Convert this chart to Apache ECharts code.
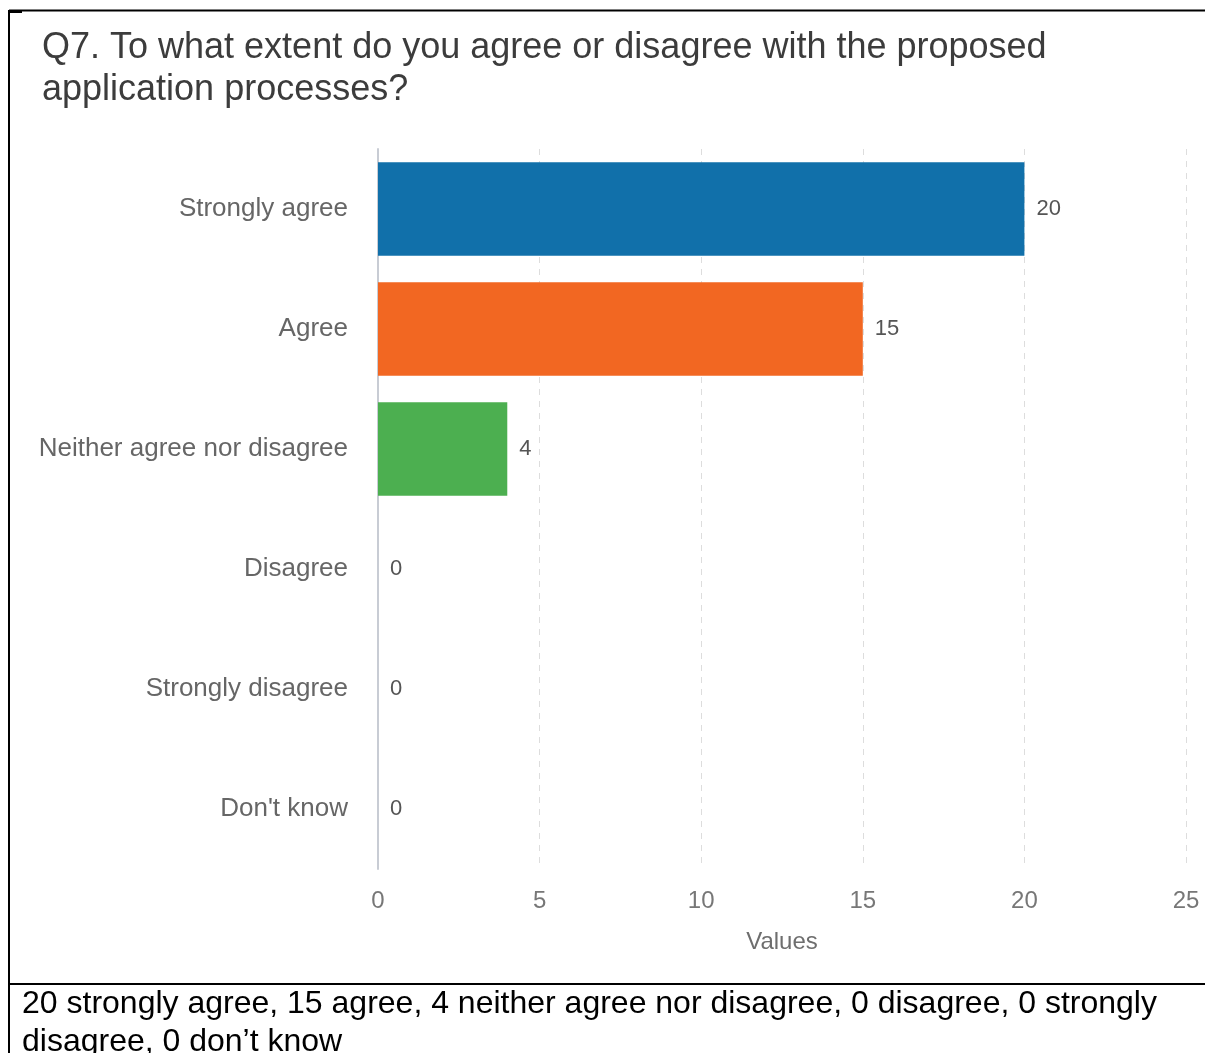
<!DOCTYPE html>
<html>
<head>
<meta charset="utf-8">
<style>
  html, body { margin: 0; padding: 0; background: #fff; }
  #chart { width: 1205px; height: 1053px; }
</style>
<script src="https://cdn.jsdelivr.net/npm/echarts@6/dist/echarts.min.js"></script>
</head>
<body>
<div id="chart"></div>
<script>
// Survey responses for Q7
const categories = ['Strongly agree', 'Agree', 'Neither agree nor disagree', 'Disagree', 'Strongly disagree', "Don't know"];
const counts = [20, 15, 4, 0, 0, 0];
const barColors = ['#1170aa', '#f26722', '#4caf50', '#999999', '#999999', '#999999'];
const titleText = 'Q7. To what extent do you agree or disagree with the proposed\napplication processes?';
const captionLines = [
  '20 strongly agree, 15 agree, 4 neither agree nor disagree, 0 disagree, 0 strongly',
  'disagree, 0 don\u2019t know'
];

const FONT = 'Liberation Sans, Arial, sans-serif';
const chart = echarts.init(document.getElementById('chart'), null, { renderer: 'canvas' });

chart.setOption({
  backgroundColor: '#ffffff',
  animation: false,
  title: {
    text: titleText,
    left: 37,
    top: 22,
    textStyle: {
      fontFamily: FONT,
      fontSize: 36,
      fontWeight: 'normal',
      color: '#3c3c3c',
      lineHeight: 42
    }
  },
  grid: {
    left: 378,
    right: 19,
    top: 149,
    height: 720,
    containLabel: false
  },
  xAxis: {
    type: 'value',
    min: 0,
    max: 25,
    interval: 5,
    name: 'Values',
    nameLocation: 'middle',
    nameGap: 61,
    nameTextStyle: { fontFamily: FONT, fontSize: 24, color: '#6e6e6e' },
    axisLine: { show: false },
    axisTick: { show: false },
    axisLabel: { margin: 20, fontFamily: FONT, fontSize: 24, color: '#777777' },
    splitLine: {
      show: true,
      lineStyle: { color: '#dddddd', type: [6, 6], width: 1 }
    }
  },
  yAxis: {
    type: 'category',
    data: categories,
    inverse: true,
    axisLine: { show: true, lineStyle: { color: '#c8ccd4', width: 2 } },
    axisTick: { show: false },
    axisLabel: { margin: 30, fontFamily: FONT, fontSize: 26, color: '#666666', padding: [8, 0, 0, 0] }
  },
  series: [{
    type: 'bar',
    data: counts.map((v, i) => ({ value: v, itemStyle: { color: barColors[i] } })),
    barCategoryGap: '22%',
    label: {
      show: true,
      position: 'right',
      distance: 12,
      fontFamily: FONT,
      fontSize: 22,
      color: '#555555',
      padding: [10, 0, 0, 0]
    }
  }],
  graphic: [
    // frame lines
    { type: 'line', shape: { x1: 9, y1: 10.5, x2: 1205, y2: 10.5 }, style: { stroke: '#000', lineWidth: 2 } },
    { type: 'line', shape: { x1: 8, y1: 11.5, x2: 22, y2: 11.5 }, style: { stroke: '#000', lineWidth: 3 } },
    { type: 'line', shape: { x1: 9, y1: 10, x2: 9, y2: 1053 }, style: { stroke: '#000', lineWidth: 2 } },
    { type: 'line', shape: { x1: 9, y1: 984, x2: 1205, y2: 984 }, style: { stroke: '#000', lineWidth: 2 } },
    // caption beneath the chart
    {
      type: 'text',
      left: 22,
      top: 985,
      style: {
        text: captionLines.join('\n'),
        fontFamily: FONT,
        fontSize: 32,
        lineHeight: 38,
        fill: '#000000'
      }
    }
  ]
});
</script>
</body>
</html>
